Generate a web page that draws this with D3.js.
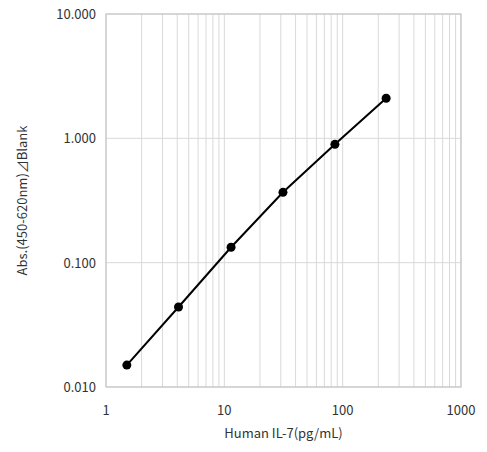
<!DOCTYPE html>
<html><head><meta charset="utf-8">
<script src="https://cdn.jsdelivr.net/npm/d3@7"></script>
<style>body{margin:0;background:#fff}</style></head>
<body><script>
// values
const conc = [1.5, 4.1, 11.4, 31.3, 86, 233];
const absorb = [0.015, 0.044, 0.133, 0.368, 0.895, 2.10];
const xTicks = [1, 10, 100, 1000];
const yTicks = [0.01, 0.1, 1, 10];

const w = 487, h = 452;
const m = {top: 14, right: 26, bottom: 65, left: 106};
const font = "'Noto Sans CJK JP', 'Noto Sans', sans-serif";

const svg = d3.select("body").append("svg").attr("width", w).attr("height", h);
const x = d3.scaleLog().domain([1, 1000]).range([m.left, w - m.right]);
const y = d3.scaleLog().domain([0.01, 10]).range([h - m.bottom, m.top]);

// minor vertical gridlines
const minor = [];
for (let d = 1; d < 1000; d *= 10) for (let k = 2; k <= 9; k++) minor.push(d * k);
svg.selectAll(".vg").data(minor.concat(xTicks)).enter().append("line")
  .attr("x1", d => x(d)).attr("x2", d => x(d))
  .attr("y1", y(10)).attr("y2", y(0.01))
  .attr("stroke", "#d9d9d9").attr("stroke-width", 1);
svg.selectAll(".hg").data(yTicks).enter().append("line")
  .attr("x1", x(1)).attr("x2", x(1000))
  .attr("y1", d => y(d)).attr("y2", d => y(d))
  .attr("stroke", "#d9d9d9").attr("stroke-width", 1);
svg.append("rect").attr("x", x(1)).attr("y", y(10))
  .attr("width", x(1000) - x(1)).attr("height", y(0.01) - y(10))
  .attr("fill", "none").attr("stroke", "#bfbfbf");

// tick labels
svg.selectAll(".xl").data(xTicks).enter().append("text")
  .attr("x", d => x(d)).attr("y", y(0.01) + 28)
  .attr("text-anchor", "middle").style("font-family", font).style("font-size", "13px")
  .attr("fill", "#333").text(d => d);
svg.selectAll(".yl").data(yTicks).enter().append("text")
  .attr("x", x(1) - 10).attr("y", d => y(d) + 5)
  .attr("text-anchor", "end").style("font-family", font).style("font-size", "13px")
  .attr("fill", "#333").text(d => d.toFixed(3));

svg.append("text").attr("x", (x(1) + x(1000)) / 2).attr("y", h - 14)
  .attr("text-anchor", "middle").style("font-family", font).style("font-size", "13px")
  .attr("fill", "#333").text("Human IL-7(pg/mL)");
svg.append("text")
  .attr("transform", `translate(27,${(y(10) + y(0.01)) / 2}) rotate(-90)`)
  .attr("text-anchor", "middle").style("font-family", font).style("font-size", "13px")
  .attr("fill", "#333").text("Abs.(450-620nm)⊿Blank");

// series
const pts = conc.map((c, i) => [c, absorb[i]]);
svg.append("path").datum(pts)
  .attr("d", d3.line().x(d => x(d[0])).y(d => y(d[1])))
  .attr("fill", "none").attr("stroke", "#000").attr("stroke-width", 2);
svg.selectAll(".pt").data(pts).enter().append("circle")
  .attr("cx", d => x(d[0])).attr("cy", d => y(d[1])).attr("r", 4.5)
  .attr("fill", "#000");
</script></body></html>
